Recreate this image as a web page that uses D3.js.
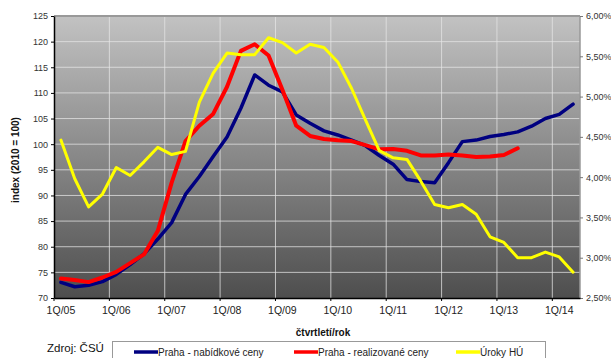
<!DOCTYPE html>
<html>
<head>
<meta charset="utf-8">
<script src="https://cdn.jsdelivr.net/npm/d3@7"></script>
<style>
  body { margin: 0; background: #fff; }
  svg { display: block; font-family: Arial, 'Liberation Sans', sans-serif; }
</style>
</head>
<body>
<svg id="chart" width="611" height="358"></svg>
<script>
// quarters 1Q/05 .. 2Q/14
var quarters = [];
for (var yr = 5; yr <= 14; yr++) {
    for (var q = 1; q <= 4; q++) {
        if (yr === 14 && q > 2) break;
        quarters.push(q + 'Q/' + (yr < 10 ? '0' + yr : yr));
    }
}

var nabidkove = [73.05, 72.2, 72.5, 73.2, 74.6, 76.5, 78.6, 81.5, 84.7, 90.2,
    93.7, 97.6, 101.4, 107.0, 113.5, 111.5, 110.2, 105.7, 104.1, 102.6,
    101.8, 100.8, 99.7, 97.8, 96.1, 93.1, 92.7, 92.5, 96.4, 100.5,
    100.8, 101.5, 101.9, 102.4, 103.5, 105.0, 105.8, 107.8];

var realizovane = [73.8, 73.5, 73.1, 74.0, 75.1, 76.8, 78.5, 83.1, 92.5, 100.6,
    103.6, 105.9, 111.2, 118.2, 119.5, 117.3, 110.6, 103.6, 101.6, 101.0,
    100.75, 100.6, 99.8, 99.0, 99.05, 98.7, 97.8, 97.8, 98.0, 97.8,
    97.5, 97.6, 97.9, 99.2];

var uroky = [4.46, 3.98, 3.63, 3.79, 4.12, 4.02, 4.19, 4.37, 4.28, 4.32,
    4.93, 5.29, 5.54, 5.52, 5.52, 5.73, 5.67, 5.54, 5.65, 5.61,
    5.43, 5.10, 4.71, 4.33, 4.24, 4.22, 3.95, 3.66, 3.62, 3.66,
    3.54, 3.26, 3.19, 3.00, 3.00, 3.07, 3.01, 2.82];

var leftTicks = [70, 75, 80, 85, 90, 95, 100, 105, 110, 115, 120, 125];
var rightTicks = [2.5, 3.0, 3.5, 4.0, 4.5, 5.0, 5.5, 6.0];
var xLabels = quarters.filter((d, i) => i % 4 === 0);

var svg = d3.select('#chart');
var plot = {left: 54, right: 580, top: 16, bottom: 298};

var x = d3.scaleBand().domain(quarters).range([plot.left, plot.right]).padding(0);
var y = d3.scaleLinear().domain([70, 125]).range([plot.bottom, plot.top]);
var y2 = d3.scaleLinear().domain([2.5, 6]).range([plot.bottom, plot.top]);

// plot background gradient
var grad = svg.append('defs').append('linearGradient')
    .attr('id', 'bg').attr('x1', 0).attr('y1', 0).attr('x2', 0).attr('y2', 1);
grad.append('stop').attr('offset', '0%').attr('stop-color', '#c2c2c2');
grad.append('stop').attr('offset', '100%').attr('stop-color', '#4e4e4e');

svg.append('rect')
    .attr('x', plot.left).attr('y', plot.top)
    .attr('width', plot.right - plot.left).attr('height', plot.bottom - plot.top)
    .attr('fill', 'url(#bg)');

// gridlines
svg.append('g').selectAll('line')
    .data(leftTicks.slice(1, -1))
    .join('line')
    .attr('x1', plot.left).attr('x2', plot.right)
    .attr('y1', d => y(d)).attr('y2', d => y(d))
    .attr('stroke', '#e6e6e6').attr('stroke-opacity', 0.75).attr('stroke-width', 1);

svg.append('g').selectAll('line')
    .data(xLabels.slice(1))
    .join('line')
    .attr('x1', d => x(d)).attr('x2', d => x(d))
    .attr('y1', plot.top).attr('y2', plot.bottom)
    .attr('stroke', '#e6e6e6').attr('stroke-opacity', 0.75).attr('stroke-width', 1);

// borders
svg.append('line').attr('x1', plot.left).attr('x2', plot.right)
    .attr('y1', plot.top).attr('y2', plot.top)
    .attr('stroke', '#999').attr('stroke-width', 2);
svg.append('line').attr('x1', plot.right).attr('x2', plot.right)
    .attr('y1', plot.top).attr('y2', plot.bottom)
    .attr('stroke', '#999').attr('stroke-width', 1.5);

// axes
var yAxis = svg.append('g')
    .attr('transform', 'translate(' + plot.left + ',0)')
    .call(d3.axisLeft(y).tickValues(leftTicks).tickSize(3).tickSizeOuter(0).tickPadding(3));
yAxis.select('.domain').attr('stroke', '#000').attr('stroke-width', 1.5);
yAxis.selectAll('text').attr('font-size', '9px').attr('fill', '#333');

var y2Axis = svg.append('g')
    .attr('transform', 'translate(' + plot.right + ',0)')
    .call(d3.axisRight(y2).tickValues(rightTicks).tickSize(3).tickSizeOuter(0).tickPadding(3)
        .tickFormat(d => d.toFixed(2).replace('.', ',') + '%'));
y2Axis.select('.domain').remove();
y2Axis.selectAll('line').attr('stroke', '#777');
y2Axis.selectAll('text').attr('font-size', '9px').attr('fill', '#333');

var xAxis = svg.append('g')
    .attr('transform', 'translate(0,' + plot.bottom + ')')
    .call(d3.axisBottom(x).tickValues(xLabels).tickSize(0).tickPadding(9));
xAxis.select('.domain').attr('stroke', '#000').attr('stroke-width', 1.5);
xAxis.selectAll('text').attr('font-size', '10.5px').attr('fill', '#222');

svg.append('g').selectAll('line')
    .data(xLabels)
    .join('line')
    .attr('x1', d => x(d)).attr('x2', d => x(d))
    .attr('y1', plot.bottom).attr('y2', plot.bottom + 3)
    .attr('stroke', '#000');

// series
var lineL = d3.line().x((d, i) => x(quarters[i]) + x.bandwidth() / 2).y(d => y(d));
var lineR = d3.line().x((d, i) => x(quarters[i]) + x.bandwidth() / 2).y(d => y2(d));

svg.append('path').attr('d', lineL(nabidkove))
    .attr('fill', 'none').attr('stroke', '#000080').attr('stroke-width', 3.5)
    .attr('stroke-linejoin', 'round').attr('stroke-linecap', 'round');
svg.append('path').attr('d', lineL(realizovane))
    .attr('fill', 'none').attr('stroke', '#ff0000').attr('stroke-width', 4)
    .attr('stroke-linejoin', 'round').attr('stroke-linecap', 'round');
svg.append('path').attr('d', lineR(uroky))
    .attr('fill', 'none').attr('stroke', '#ffff00').attr('stroke-width', 3)
    .attr('stroke-linejoin', 'round').attr('stroke-linecap', 'round');

// axis titles
svg.append('text')
    .attr('transform', 'translate(19,' + ((plot.top + plot.bottom) / 2 + 3) + ') rotate(-90)')
    .attr('text-anchor', 'middle')
    .attr('font-size', '10px').attr('font-weight', 'bold').attr('fill', '#111')
    .text('index (2010 = 100)');

svg.append('text')
    .attr('x', 323).attr('y', 336)
    .attr('text-anchor', 'middle')
    .attr('font-size', '10px').attr('font-weight', 'bold').attr('fill', '#111')
    .text('čtvrtletí/rok');

svg.append('text')
    .attr('x', 47).attr('y', 352)
    .attr('font-size', '11.5px').attr('fill', '#111')
    .text('Zdroj: ČSÚ');

// legend
var legendItems = [
    {name: 'Praha - nabídkové ceny', color: '#000080', x: 134},
    {name: 'Praha - realizované ceny', color: '#ff0000', x: 294},
    {name: 'Úroky HÚ', color: '#ffff00', x: 456}
];

svg.append('rect')
    .attr('x', 112.5).attr('y', 341.5).attr('width', 433).attr('height', 30)
    .attr('fill', '#fff').attr('stroke', '#999');

var lg = svg.append('g').selectAll('g')
    .data(legendItems)
    .join('g')
    .attr('transform', d => 'translate(' + d.x + ',352)');
lg.append('line')
    .attr('x1', 0).attr('x2', 24).attr('y1', 0).attr('y2', 0)
    .attr('stroke', d => d.color).attr('stroke-width', 3.5);
lg.append('text')
    .attr('x', 24).attr('y', 3.5)
    .attr('font-size', '10px').attr('fill', '#222')
    .text(d => d.name);
</script>
</body>
</html>
